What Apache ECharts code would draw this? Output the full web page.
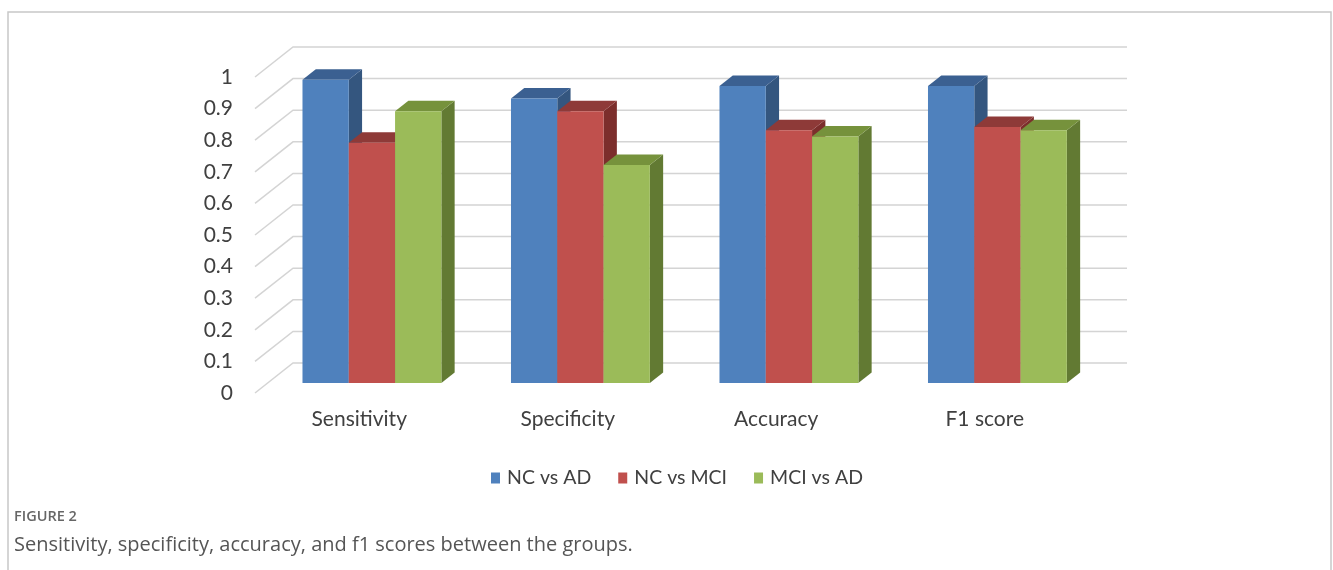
<!DOCTYPE html>
<html>
<head>
<meta charset="utf-8">
<script src="https://cdn.jsdelivr.net/npm/echarts@6/dist/echarts.min.js"></script>
<style>
  html, body { margin: 0; padding: 0; background: #ffffff; }
  #chart { width: 1333px; height: 570px; }
</style>
</head>
<body>
<div id="chart"></div>
<script>
// ---- data ----
const categories = ['Sensitivity', 'Specificity', 'Accuracy', 'F1 score'];
const seriesNames = ['NC vs AD', 'NC vs MCI', 'MCI vs AD'];
const ncVsAd  = [0.96, 0.90, 0.94, 0.94];
const ncVsMci = [0.76, 0.86, 0.80, 0.81];
const mciVsAd = [0.86, 0.69, 0.78, 0.80];
const yTicks = [0, 0.1, 0.2, 0.3, 0.4, 0.5, 0.6, 0.7, 0.8, 0.9, 1];
const yTickLabels = ['0', '0.1', '0.2', '0.3', '0.4', '0.5', '0.6', '0.7', '0.8', '0.9', '1'];

// ---- pseudo-3D geometry (pixels / fractions) ----
const WALL_DX = 38;      // horizontal shift from front edge to back wall
const WALL_DY = -30;     // vertical shift from front edge to back wall
const BAR_PLANE = 1 / 3; // depth of the bars' front faces
const BAR_DEPTH = 0.35;  // depth of each bar
const BAR_FRAC = 0.222;  // bar width as a fraction of the category band

const palette = [
  { front: '#4F81BD', top: '#3B6091', side: '#34567F' },
  { front: '#C0504D', top: '#8E3A38', side: '#7C2E2C' },
  { front: '#9BBB59', top: '#76923C', side: '#627A33' }
];

const TEXT_FONT = 'Lato, "Liberation Sans", sans-serif';

function wallRenderer(params, api) {
  const v = api.value(1);
  const p = api.coord([0, v]);
  const cs = params.coordSys;
  const xl = cs.x, xr = cs.x + cs.width, y = p[1];
  return {
    type: 'polyline',
    shape: { points: [[xl, y], [xl + WALL_DX, y + WALL_DY], [xr + WALL_DX, y + WALL_DY]] },
    style: { stroke: '#D4D4D4', lineWidth: 1.5, fill: null }
  };
}

function barRenderer(seriesIdx) {
  const c = palette[seriesIdx];
  return function (params, api) {
    const cat = api.value(0);
    const val = api.value(1);
    const top = api.coord([cat, val]);
    const base = api.coord([cat, 0]);
    const band = api.size([1, 0])[0];
    const w = band * BAR_FRAC;
    const ox = WALL_DX * BAR_PLANE, oy = WALL_DY * BAR_PLANE;
    const x0 = top[0] - 1.5 * w + seriesIdx * w + ox;
    const x1 = x0 + w;
    const yT = top[1] + oy, yB = base[1] + oy;
    const dx = WALL_DX * BAR_DEPTH, dy = WALL_DY * BAR_DEPTH;
    return {
      type: 'group',
      children: [
        { type: 'polygon',
          shape: { points: [[x1, yB], [x1 + dx, yB + dy], [x1 + dx, yT + dy], [x1, yT]] },
          style: { fill: c.side } },
        { type: 'polygon',
          shape: { points: [[x0, yT], [x0 + dx, yT + dy], [x1 + dx, yT + dy], [x1, yT]] },
          style: { fill: c.top } },
        { type: 'rect',
          shape: { x: x0, y: yT, width: w, height: yB - yT },
          style: { fill: c.front } }
      ]
    };
  };
}

const valueSets = [ncVsAd, ncVsMci, mciVsAd];

const chart = echarts.init(document.getElementById('chart'), null, { renderer: 'canvas' });

chart.setOption({
  backgroundColor: '#ffffff',
  animation: false,
  grid: { left: 255, right: 244, top: 77, bottom: 177, containLabel: false },
  xAxis: {
    type: 'category',
    data: categories,
    axisLine: { show: false },
    axisTick: { show: false },
    splitLine: { show: false },
    axisLabel: { color: '#404040', fontSize: 21, fontFamily: TEXT_FONT, margin: 16 }
  },
  yAxis: {
    type: 'value',
    min: 0, max: 1, interval: 0.1,
    axisLine: { show: false },
    axisTick: { show: false },
    splitLine: { show: false },
    axisLabel: {
      color: '#404040', fontSize: 21, fontFamily: TEXT_FONT, margin: 22,
      formatter: function (v) {
        const i = yTicks.findIndex(t => Math.abs(t - v) < 1e-6);
        return i >= 0 ? yTickLabels[i] : '';
      }
    }
  },
  legend: {
    data: seriesNames,
    top: 463,
    left: 486,
    icon: 'rect',
    itemWidth: 9,
    itemHeight: 11,
    itemGap: 27,
    textStyle: { color: '#404040', fontSize: 19.5, fontFamily: TEXT_FONT, padding: [0, 0, 0, 2] }
  },
  series: [
    {
      type: 'custom',
      name: 'wall',
      silent: true,
      renderItem: wallRenderer,
      data: yTicks.map(v => [0, v]),
      encode: { x: 0, y: 1 },
      z: 1
    }
  ].concat(seriesNames.map((name, si) => ({
    type: 'custom',
    name: name,
    renderItem: barRenderer(si),
    itemStyle: { color: palette[si].front },
    data: valueSets[si].map((v, i) => [i, v]),
    encode: { x: 0, y: 1 },
    z: 2
  }))),
  graphic: [
    { type: 'rect', shape: { x: 8, y: 12, width: 1323, height: 600 },
      style: { fill: null, stroke: '#C8C8C8', lineWidth: 1.5 }, silent: true },
    { type: 'text', left: 14, top: 509,
      style: { text: 'FIGURE 2', fill: '#666666', font: '600 14.5px "Open Sans", sans-serif' } },
    { type: 'text', left: 14, top: 535,
      style: { text: 'Sensitivity, specificity, accuracy, and f1 scores between the groups.',
               fill: '#555555', font: '20px "Open Sans", sans-serif' } }
  ]
});
</script>
</body>
</html>
